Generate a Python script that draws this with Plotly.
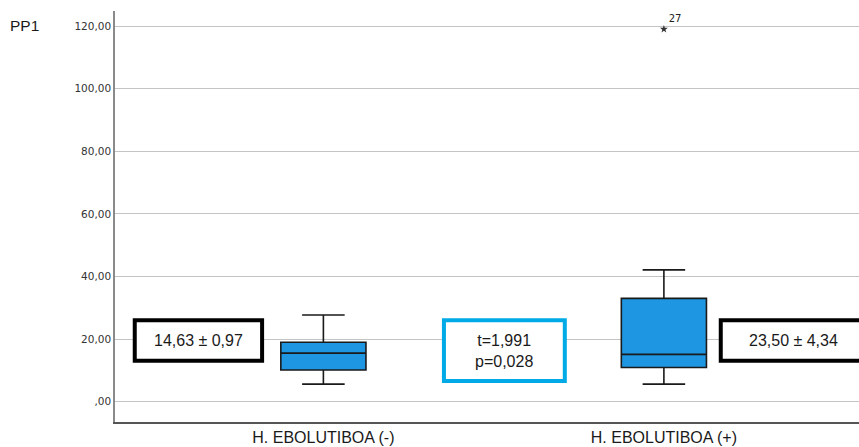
import plotly.graph_objects as go

# Group boxplot summaries for PP1
groups = ["H. EBOLUTIBOA (-)", "H. EBOLUTIBOA (+)"]
group_pos = [0, 1]
q1 = [10.1, 10.9]
median = [15.5, 15.1]
q3 = [19.0, 33.0]
lower_fence = [5.6, 5.6]
upper_fence = [27.7, 42.1]

# Extreme value flagged in the (+) group
outlier_pos = [1]
outlier_val = [119.0]
outlier_case = ["27"]

# Mean ± SE per group and the t-test result
mean_se_labels = ["14,63 ± 0,97", "23,50 ± 4,34"]
test_label = "t=1,991<br>p=0,028"

# Y-axis ticks in SPSS style
y_ticks = [0, 20, 40, 60, 80, 100, 120]
y_tick_text = [",00", "20,00", "40,00", "60,00", "80,00", "100,00", "120,00"]

BOX_FILL = "rgb(30,150,225)"
TEXT = "#1a1a1a"

fig = go.Figure()

fig.add_trace(go.Box(
    x=group_pos,
    q1=q1, median=median, q3=q3,
    lowerfence=lower_fence, upperfence=upper_fence,
    width=0.25, whiskerwidth=0.5,
    fillcolor=BOX_FILL,
    line=dict(color="#1a1a1a", width=1.6),
    boxpoints=False,
    hoverinfo="skip",
    showlegend=False,
))

fig.add_trace(go.Scatter(
    x=outlier_pos, y=outlier_val,
    mode="markers+text",
    marker=dict(symbol="star", size=6, color="#333333"),
    text=outlier_case,
    textposition="top right",
    textfont=dict(family="DejaVu Sans", size=10, color="#222222"),
    showlegend=False,
    hoverinfo="skip",
))

# Framed summary boxes
frames = [
    dict(x0=-0.554, x1=-0.180, y0=13.1, y1=26.0, color="#000000", text=mean_se_labels[0]),
    dict(x0=0.354, x1=0.709, y0=6.6, y1=26.0, color="rgb(0,170,230)", text=test_label),
    dict(x0=1.167, x1=1.70, y0=13.1, y1=26.0, color="#000000", text=mean_se_labels[1]),
]
for f in frames:
    fig.add_shape(type="rect", xref="x", yref="y",
                  x0=f["x0"], x1=f["x1"], y0=f["y0"], y1=f["y1"],
                  line=dict(color=f["color"], width=4), fillcolor="white", layer="above")

label_font = dict(family="Liberation Sans", size=16, color=TEXT)
fig.add_annotation(x=(frames[0]["x0"] + frames[0]["x1"]) / 2, y=(frames[0]["y0"] + frames[0]["y1"]) / 2,
                   text=frames[0]["text"], showarrow=False, font=label_font)
fig.add_annotation(x=(frames[1]["x0"] + frames[1]["x1"]) / 2, y=(frames[1]["y0"] + frames[1]["y1"]) / 2,
                   text=frames[1]["text"], showarrow=False, font=label_font)
fig.add_annotation(x=1.382, y=(frames[2]["y0"] + frames[2]["y1"]) / 2,
                   text=frames[2]["text"], showarrow=False, font=label_font)

# Variable name in the top-left corner
fig.add_annotation(xref="paper", yref="paper", x=-0.144, y=0.965,
                   xanchor="left", yanchor="middle", text="PP1", showarrow=False,
                   font=dict(family="Liberation Sans", size=15.5, color=TEXT))

fig.update_layout(
    width=859, height=447,
    margin=dict(l=115, r=0, t=11, b=25),
    paper_bgcolor="white", plot_bgcolor="white",
    xaxis=dict(
        range=[-0.612, 1.573],
        tickvals=group_pos, ticktext=groups,
        showgrid=False, zeroline=False,
        showline=True, linecolor="#555555", linewidth=1.5,
        ticks="", ticklen=0,
        tickfont=dict(family="Liberation Sans", size=16, color=TEXT),
    ),
    yaxis=dict(
        range=[-6.5, 124.8],
        tickvals=y_ticks, ticktext=y_tick_text,
        showgrid=True, gridcolor="#c4c4c4", gridwidth=1,
        zeroline=False,
        showline=True, linecolor="#8a8a8a", linewidth=1.5,
        ticks="", ticklen=0,
        tickfont=dict(family="DejaVu Sans", size=10.5, color="#333333"),
    ),
)

fig.write_html("out.html")
